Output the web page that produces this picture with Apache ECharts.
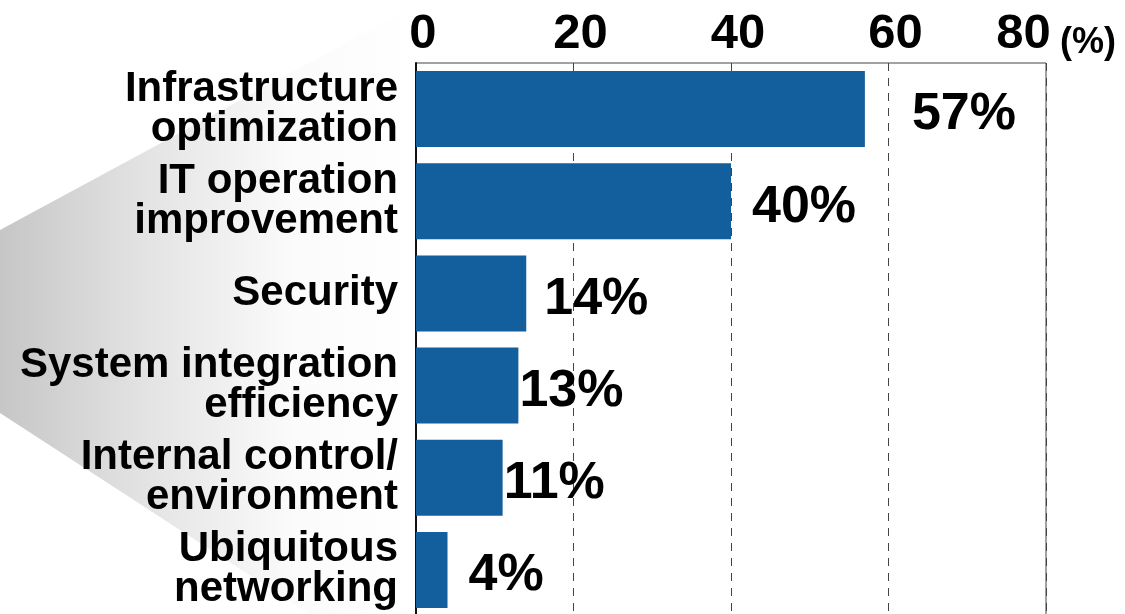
<!DOCTYPE html>
<html>
<head>
<meta charset="utf-8">
<style>
  html, body { margin: 0; padding: 0; background: #fff; }
  #chart { width: 1125px; height: 614px; }
</style>
<script src="https://cdn.jsdelivr.net/npm/echarts@6/dist/echarts.min.js"></script>
</head>
<body>
<div id="chart"></div>
<script>
// Share of respondents by area of expected benefit (%)
const categories = [
  'Infrastructure\noptimization',
  'IT operation\nimprovement',
  'Security',
  'System integration\nefficiency',
  'Internal control/\nenvironment',
  'Ubiquitous\nnetworking'
];
const values = [57, 40, 14, 13, 11, 4];
const axisTicks = [0, 20, 40, 60, 80];
const unitLabel = '(%)';

// gap between each bar end and its value label
const labelGaps = [47, 21, 18, 1, 1, 21];

const FONT = '"Liberation Sans", Arial, sans-serif';
const BAR_COLOR = '#135e9c';

const chart = echarts.init(document.getElementById('chart'));

chart.setOption({
  animation: false,
  backgroundColor: '#ffffff',
  graphic: [{
    type: 'polygon',
    z: -10,
    silent: true,
    shape: { points: [[0, 230], [420, 3], [420, 686], [0, 413]] },
    style: {
      fill: new echarts.graphic.LinearGradient(0, 0, 1, 0, [
        { offset: 0, color: '#c6c6c6' },
        { offset: 0.33, color: '#e2e2e2' },
        { offset: 0.7, color: '#fbfbfb' },
        { offset: 1, color: '#ffffff' }
      ])
    }
  }],
  grid: {
    left: 416,
    top: 63,
    width: 630,
    height: 553,
    show: true,
    borderColor: '#444',
    borderWidth: 1,
    backgroundColor: 'transparent',
    outerBoundsMode: 'none',
    containLabel: false
  },
  xAxis: {
    type: 'value',
    position: 'top',
    min: axisTicks[0],
    max: axisTicks[axisTicks.length - 1],
    interval: axisTicks[1] - axisTicks[0],
    name: unitLabel,
    nameLocation: 'end',
    nameGap: 14,
    nameTextStyle: {
      fontFamily: FONT,
      fontWeight: 'bold',
      fontSize: 36,
      lineHeight: 40,
      color: '#000',
      align: 'left',
      verticalAlign: 'bottom'
    },
    axisLine: { show: false },
    axisTick: { show: false },
    axisLabel: {
      margin: 4,
      formatter: v => (v === axisTicks[axisTicks.length - 1] ? '{e|' + v + '}' : '{n|' + v + '}'),
      rich: {
        n: { fontFamily: FONT, fontWeight: 'bold', fontSize: 49, color: '#000', padding: [0, 0, 0, 14] },
        e: { fontFamily: FONT, fontWeight: 'bold', fontSize: 49, color: '#000', padding: [0, 45, 0, 0] }
      }
    },
    splitLine: {
      show: true,
      lineStyle: { color: '#444', width: 1, type: [8, 7] }
    }
  },
  yAxis: {
    type: 'category',
    inverse: true,
    data: categories,
    axisLine: { show: true, lineStyle: { color: '#111', width: 2 } },
    axisTick: { show: false },
    axisLabel: {
      margin: 18,
      fontFamily: FONT,
      fontWeight: 'bold',
      fontSize: 42,
      lineHeight: 40,
      color: '#000',
      align: 'right'
    },
    splitLine: { show: false }
  },
  series: [{
    type: 'bar',
    data: values.map((v, i) => ({
      value: v,
      label: { distance: labelGaps[i] }
    })),
    barCategoryGap: '17.5%',
    itemStyle: { color: BAR_COLOR },
    label: {
      show: true,
      position: 'right',
      formatter: '{c}%',
      offset: [0, 6],
      fontFamily: FONT,
      fontWeight: 'bold',
      fontSize: 52,
      color: '#000'
    }
  }]
});
</script>
</body>
</html>
